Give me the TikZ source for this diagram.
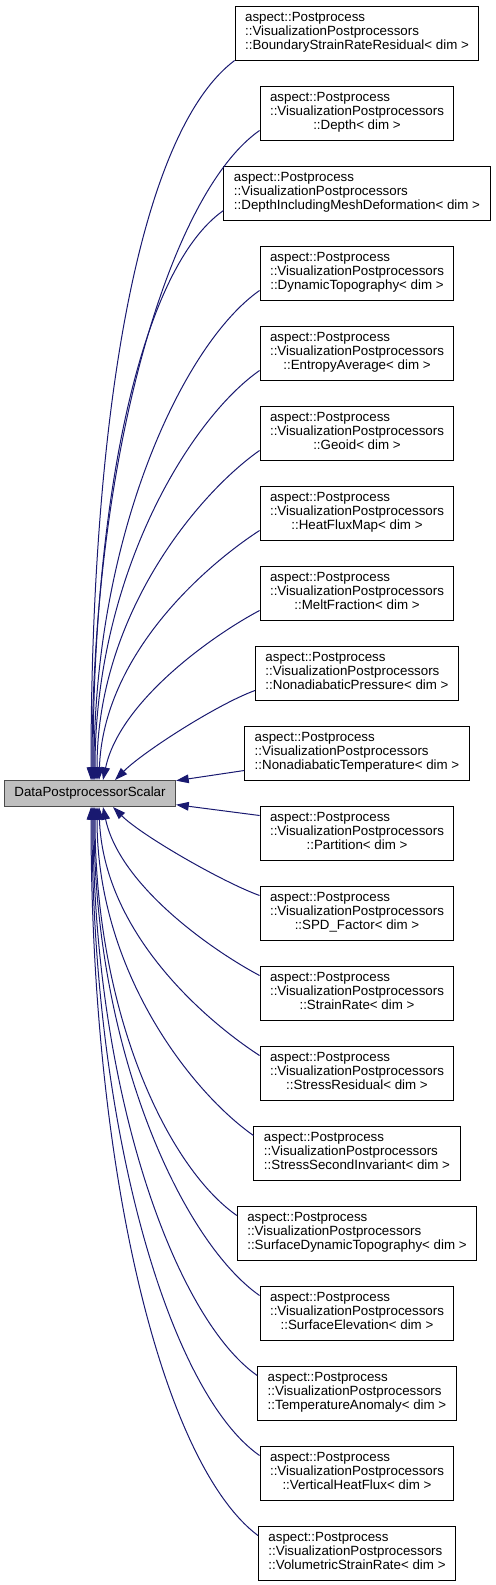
\documentclass[tikz,border=0pt]{standalone}
\usepackage{fontspec}
\setmainfont{Liberation Sans}
\usepackage{tikz}
\usetikzlibrary{positioning,arrows.meta}
\definecolor{edgeblue}{RGB}{25,25,112}
\tikzstyle{cls} = [draw=black,fill=white,line width=0.75pt,inner xsep=7.5pt,inner ysep=0pt,minimum height=40.5pt,font=\fontsize{10}{10.25}\selectfont]
\tikzstyle{base} = [draw=black!70,fill=black!25,line width=0.75pt,inner xsep=7.5pt,inner ysep=0pt,minimum height=19.5pt,font=\fontsize{10}{12}\selectfont]
\tikzstyle{dep} = [draw=edgeblue,line width=0.75pt,<-,>={Triangle[length=9.5pt,width=6.5pt]}]
\newcommand{\vpname}[1]{\begin{tabular}{@{}c@{}}\multicolumn{1}{@{}l@{}}{aspect::Postprocess}\\\multicolumn{1}{@{}l@{}}{::VisualizationPostprocessors}\\::#1< dim >\end{tabular}}

\begin{document}
\begin{tikzpicture}[x=0.75pt,y=0.75pt,node distance=18.75pt]
            \useasboundingbox (0,0) rectangle (496,-1585);
            \node[base] (dpscalar) at (90,-793.5) {DataPostprocessorScalar};
            \node[cls] (bsrr) at (357,-33) {\vpname{BoundaryStrainRateResidual}};
            \node[cls] (depth) [below = of bsrr] {\vpname{Depth}};
            \node[cls] (dimd) [below = of depth] {\vpname{DepthIncludingMeshDeformation}};
            \node[cls] (dyntopo) [below = of dimd] {\vpname{DynamicTopography}};
            \node[cls] (entropy) [below = of dyntopo] {\vpname{EntropyAverage}};
            \node[cls] (geoid) [below = of entropy] {\vpname{Geoid}};
            \node[cls] (heatflux) [below = of geoid] {\vpname{HeatFluxMap}};
            \node[cls] (melt) [below = of heatflux] {\vpname{MeltFraction}};
            \node[cls] (napress) [below = of melt] {\vpname{NonadiabaticPressure}};
            \node[cls] (natemp) [below = of napress] {\vpname{NonadiabaticTemperature}};
            \node[cls] (partition) [below = of natemp] {\vpname{Partition}};
            \node[cls] (spd) [below = of partition] {\vpname{SPD\_Factor}};
            \node[cls] (strainrate) [below = of spd] {\vpname{StrainRate}};
            \node[cls] (stressres) [below = of strainrate] {\vpname{StressResidual}};
            \node[cls] (stressinv) [below = of stressres] {\vpname{StressSecondInvariant}};
            \node[cls] (surfdyn) [below = of stressinv] {\vpname{SurfaceDynamicTopography}};
            \node[cls] (surfelev) [below = of surfdyn] {\vpname{SurfaceElevation}};
            \node[cls] (tempanom) [below = of surfelev] {\vpname{TemperatureAnomaly}};
            \node[cls] (vheatflux) [below = of tempanom] {\vpname{VerticalHeatFlux}};
            \node[cls] (volstrain) [below = of vheatflux] {\vpname{VolumetricStrainRate}};
            % upper half
            \path ([xshift=0.75pt]dpscalar.north) edge [dep,out=90,in=217,out distance=274pt,in distance=90pt] (bsrr.south west);
            \path ([xshift=1.5pt]dpscalar.north) edge [dep,out=90,in=215,out distance=244pt,in distance=82pt] ([yshift=7.5pt]depth.south west);
            \path ([xshift=2.25pt]dpscalar.north) edge [dep,out=90,in=215,out distance=214pt,in distance=75pt] ([yshift=7.5pt]dimd.south west);
            \path ([xshift=3pt]dpscalar.north) edge [dep,out=90,in=215,out distance=184pt,in distance=70pt] ([yshift=7.5pt]dyntopo.south west);
            \path ([xshift=3.75pt]dpscalar.north) edge [dep,out=90,in=215,out distance=154pt,in distance=64pt] ([yshift=7.5pt]entropy.south west);
            \path ([xshift=5.25pt]dpscalar.north) edge [dep,out=90,in=215,out distance=124pt,in distance=56pt] ([yshift=7.5pt]geoid.south west);
            \path ([xshift=6.75pt]dpscalar.north) edge [dep,out=88,in=213,out distance=94pt,in distance=49pt] ([yshift=7.5pt]heatflux.south west);
            \path ([xshift=9.75pt]dpscalar.north) edge [dep,out=78,in=208,out distance=60pt,in distance=41pt] ([yshift=7.5pt]melt.south west);
            \path ([xshift=18.75pt]dpscalar.north) edge [dep,out=45,in=200,out distance=30pt,in distance=30pt] ([yshift=7.5pt]napress.south west);
            \path (dpscalar) edge [dep] ([yshift=7.5pt]natemp.south west);
            % lower half
            \path (dpscalar) edge [dep] ([yshift=-7.5pt]partition.north west);
            \path ([xshift=17.25pt]dpscalar.south) edge [dep,out=-45,in=160,out distance=30pt,in distance=30pt] ([yshift=-7.5pt]spd.north west);
            \path ([xshift=9.75pt]dpscalar.south) edge [dep,out=-78,in=152,out distance=60pt,in distance=41pt] ([yshift=-7.5pt]strainrate.north west);
            \path ([xshift=6.75pt]dpscalar.south) edge [dep,out=-88,in=147,out distance=94pt,in distance=49pt] ([yshift=-7.5pt]stressres.north west);
            \path ([xshift=5.25pt]dpscalar.south) edge [dep,out=-90,in=145,out distance=124pt,in distance=56pt] ([yshift=-7.5pt]stressinv.north west);
            \path ([xshift=3.75pt]dpscalar.south) edge [dep,out=-90,in=145,out distance=154pt,in distance=64pt] ([yshift=-7.5pt]surfdyn.north west);
            \path ([xshift=3pt]dpscalar.south) edge [dep,out=-90,in=145,out distance=184pt,in distance=70pt] ([yshift=-7.5pt]surfelev.north west);
            \path ([xshift=2.25pt]dpscalar.south) edge [dep,out=-90,in=145,out distance=214pt,in distance=75pt] ([yshift=-7.5pt]tempanom.north west);
            \path ([xshift=1.5pt]dpscalar.south) edge [dep,out=-90,in=145,out distance=244pt,in distance=82pt] ([yshift=-7.5pt]vheatflux.north west);
            \path ([xshift=0.75pt]dpscalar.south) edge [dep,out=-90,in=143,out distance=274pt,in distance=90pt] ([yshift=-7.5pt]volstrain.north west);
        \end{tikzpicture}
\end{document}
